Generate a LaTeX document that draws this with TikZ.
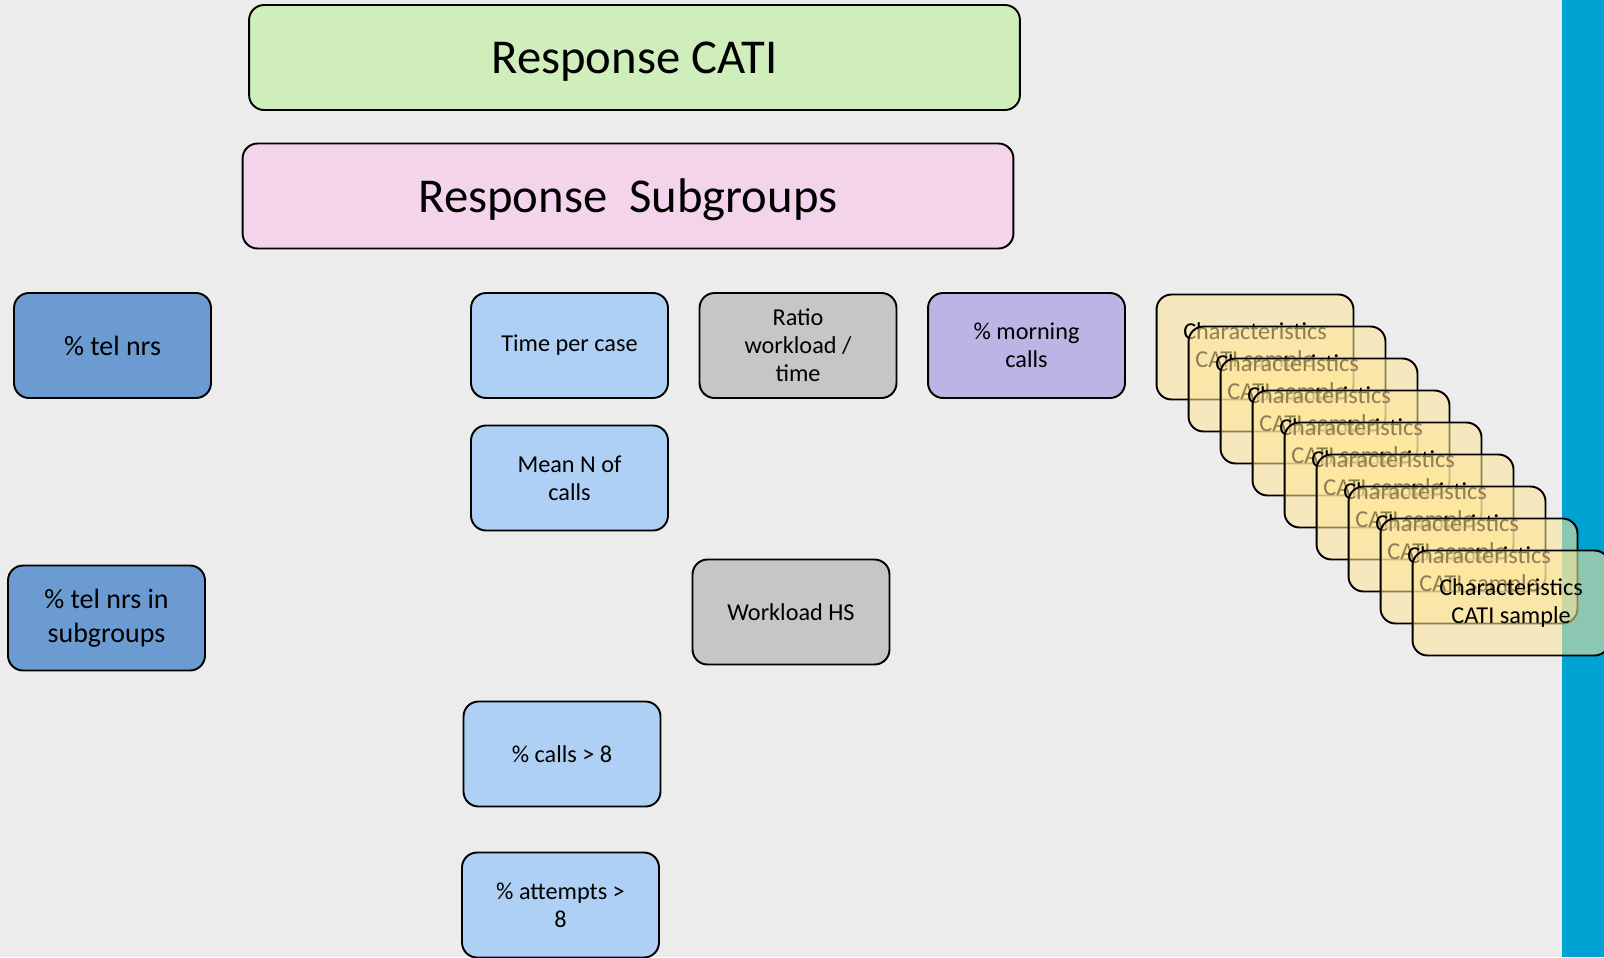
\documentclass[tikz,border=0pt]{standalone}
\usepackage{fontspec}
\setmainfont{Carlito}
\definecolor{bggrey}{HTML}{ECECEC}
\definecolor{catigreen}{HTML}{D0EDBC}
\definecolor{subpink}{HTML}{F4D4EA}
\definecolor{darkblue}{HTML}{6B9BD0}
\definecolor{lightblue}{HTML}{AED0F5}
\definecolor{midgrey}{HTML}{C6C6C6}
\definecolor{lilac}{HTML}{BBB5E5}
\definecolor{cardyellow}{HTML}{FFE699}
\definecolor{barblue}{HTML}{00A2D2}
\def\smallfont{\fontsize{13.8}{16}\selectfont}
\def\cardtext{Characteristics\\CATI sample}
\tikzset{
  box/.style={draw=black, line width=1.1pt, rounded corners=0.3cm,
    minimum width=3.94cm, minimum height=2.1cm, inner sep=0pt,
    align=center, font=\smallfont},
  widebox/.style={box, minimum width=15.42cm, text depth=0pt,
    font=\fontsize{27.7}{33}\selectfont},
  bigbox/.style={box, font=\fontsize{15.9}{19.2}\selectfont},
  card/.style={box, fill=cardyellow, fill opacity=0.55, text opacity=1,
    draw opacity=1, font=\fontsize{13.8}{16.3}\selectfont}
}

\begin{document}
\begin{tikzpicture}[x=0.02cm, y=-0.02cm]
  \useasboundingbox (0,0) rectangle (1604,957);
  \clip (0,0) rectangle (1604,957);
  \fill[bggrey] (0,0) rectangle (1604,957);
  \fill[barblue] (1562,0) rectangle (1604,957);

  % top bars
  \node[widebox, fill=catigreen] (cati) at (634.5,57.5) {Response CATI};
  \node[widebox, fill=subpink] (subgroups) at (628,196) {Response\ \ Subgroups};

  % left column
  \node[bigbox, fill=darkblue] (telnrs) at (112.5,345.5) {\% tel nrs};
  \node[bigbox, fill=darkblue] (telsub) at (106.5,618) {\% tel nrs in\\subgroups};

  % middle
  \node[box, fill=lightblue] (timecase) at (569.5,345.5) {Time per case};
  \node[box, fill=lightblue] (meancalls) at (569.5,478) {Mean N of\\calls};
  \node[box, fill=lightblue] (callsgt) at (562,754) {\% calls > 8};
  \node[box, fill=lightblue] (attemptsgt) at (560.5,905) {\% attempts >\\8};
  \node[box, fill=midgrey] (ratio) at (798,345.5) {Ratio\\workload /\\time};
  \node[box, fill=midgrey] (workhs) at (791,612) {Workload HS};
  \node[box, fill=lilac] (morning) at (1026.5,345.5) {\% morning\\calls};

  % stack of cards
  \foreach \i in {0,...,8}
    \node[card] (card\i) at (1255+32*\i,347+32*\i) {\cardtext};
\end{tikzpicture}
\end{document}
